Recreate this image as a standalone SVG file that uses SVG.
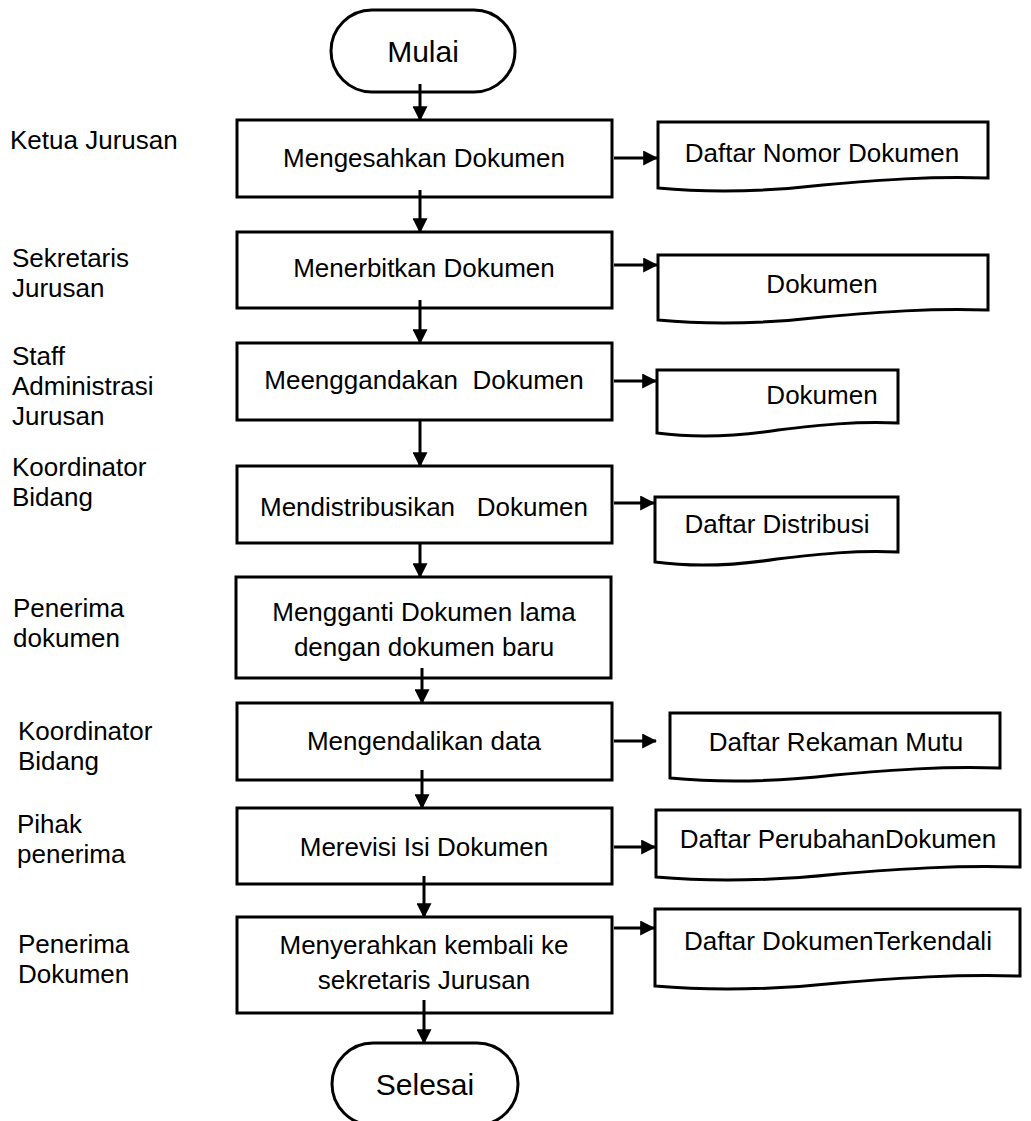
<svg xmlns="http://www.w3.org/2000/svg" width="1031" height="1121" viewBox="0 0 1031 1121">
<style>
text{font-family:"Liberation Sans",Arial,sans-serif;font-size:26px;fill:#000}
.c{text-anchor:middle}
.t{font-size:30px}
.s{fill:#fff;stroke:#000;stroke-width:3}
.ln{stroke:#000;stroke-width:3;fill:none}
</style>
<defs>
<marker id="ah" markerWidth="5" markerHeight="5" refX="4.6" refY="2.5" orient="auto" markerUnits="strokeWidth">
<path d="M0,0 L5,2.5 L0,5 Z" fill="#000"/>
</marker>
</defs>
<rect width="1031" height="1121" fill="#fff"/>

<g id="lanes">
<text x="10" y="149">Ketua Jurusan</text>
<text x="12" y="267">Sekretaris</text>
<text x="12" y="297">Jurusan</text>
<text x="12" y="365">Staff</text>
<text x="12" y="395">Administrasi</text>
<text x="12" y="425">Jurusan</text>
<text x="12" y="476">Koordinator</text>
<text x="12" y="506">Bidang</text>
<text x="13" y="617">Penerima</text>
<text x="13" y="647">dokumen</text>
<text x="18" y="740">Koordinator</text>
<text x="18" y="770">Bidang</text>
<text x="17" y="833">Pihak</text>
<text x="17" y="863">penerima</text>
<text x="18" y="953">Penerima</text>
<text x="18" y="983">Dokumen</text>
</g>

<g id="start">
<rect class="s" x="331" y="10" width="184" height="82" rx="41"/>
<text class="c t" x="423" y="62">Mulai</text>
</g>

<g id="p1"><rect class="s" x="237" y="120" width="375" height="77"/><text class="c" x="424" y="167">Mengesahkan Dokumen</text></g>
<g id="p2"><rect class="s" x="237" y="232" width="375" height="76"/><text class="c" x="424" y="277">Menerbitkan Dokumen</text></g>
<g id="p3"><rect class="s" x="237" y="343" width="375" height="77"/><text class="c" x="424" y="389" xml:space="preserve">Meenggandakan  Dokumen</text></g>
<g id="p4"><rect class="s" x="237" y="466" width="375" height="77"/><text class="c" x="424" y="516" xml:space="preserve">Mendistribusikan   Dokumen</text></g>
<g id="p5"><rect class="s" x="236" y="577" width="375" height="101"/><text class="c" x="424" y="621">Mengganti Dokumen lama</text><text class="c" x="424" y="656">dengan dokumen baru</text></g>
<g id="p6"><rect class="s" x="237" y="703" width="375" height="77"/><text class="c" x="424" y="750">Mengendalikan data</text></g>
<g id="p7"><rect class="s" x="237" y="808" width="375" height="76"/><text class="c" x="424" y="856">Merevisi Isi Dokumen</text></g>
<g id="p8"><rect class="s" x="237" y="917" width="375" height="96"/><text class="c" x="424" y="954">Menyerahkan kembali ke</text><text class="c" x="424" y="989">sekretaris Jurusan</text></g>

<g id="end">
<rect class="s" x="332" y="1043" width="186" height="82" rx="41"/>
<text class="c t" x="425" y="1095">Selesai</text>
</g>

<g id="d1"><path class="s" d="M658,122 H988 V178 C930,176 880,180 823,185 C780,190 720,194 658,188 Z"/><text class="c" x="822" y="162">Daftar Nomor Dokumen</text></g>
<g id="d2"><path class="s" d="M658,255 H988 V310 C930,308 880,312 823,317 C780,322 720,326 658,320 Z"/><text class="c" x="822" y="293">Dokumen</text></g>
<g id="d3"><path class="s" d="M657,370 H898 V423 C856,421 820,425 778,430 C746,435 702,439 657,433 Z"/><text class="c" x="822" y="404">Dokumen</text></g>
<g id="d4"><path class="s" d="M655,497 H898 V552 C856,550 820,554 777,559 C745,564 700,568 655,562 Z"/><text class="c" x="777" y="533">Daftar Distribusi</text></g>
<g id="d6"><path class="s" d="M670,713 H1000 V768 C942,766 892,770 835,775 C792,780 732,784 670,778 Z"/><text class="c" x="836" y="751">Daftar Rekaman Mutu</text></g>
<g id="d7"><path class="s" d="M656,810 H1020 V867 C956,865 900,869 838,874 C790,879 724,883 656,877 Z"/><text class="c" x="838" y="848">Daftar PerubahanDokumen</text></g>
<g id="d8"><path class="s" d="M655,909 H1020 V976 C956,974 900,978 838,983 C790,988 724,992 655,986 Z"/><text class="c" x="838" y="950">Daftar DokumenTerkendali</text></g>

<g id="connectors">
<line class="ln" x1="420" y1="84" x2="420" y2="120" marker-end="url(#ah)"/>
<line class="ln" x1="420" y1="190" x2="420" y2="232" marker-end="url(#ah)"/>
<line class="ln" x1="420" y1="300" x2="420" y2="343" marker-end="url(#ah)"/>
<line class="ln" x1="420" y1="420" x2="420" y2="466" marker-end="url(#ah)"/>
<line class="ln" x1="420" y1="543" x2="420" y2="577" marker-end="url(#ah)"/>
<line class="ln" x1="422" y1="668" x2="422" y2="703" marker-end="url(#ah)"/>
<line class="ln" x1="422" y1="770" x2="422" y2="808" marker-end="url(#ah)"/>
<line class="ln" x1="424" y1="876" x2="424" y2="917" marker-end="url(#ah)"/>
<line class="ln" x1="424" y1="1000" x2="424" y2="1043" marker-end="url(#ah)"/>
<line class="ln" x1="614" y1="158" x2="657" y2="158" marker-end="url(#ah)"/>
<line class="ln" x1="614" y1="265" x2="657" y2="265" marker-end="url(#ah)"/>
<line class="ln" x1="614" y1="381" x2="656" y2="381" marker-end="url(#ah)"/>
<line class="ln" x1="614" y1="503" x2="654" y2="503" marker-end="url(#ah)"/>
<line class="ln" x1="614" y1="741" x2="656" y2="741" marker-end="url(#ah)"/>
<line class="ln" x1="614" y1="847" x2="655" y2="847" marker-end="url(#ah)"/>
<line class="ln" x1="614" y1="928" x2="654" y2="928" marker-end="url(#ah)"/>
</g>
</svg>
